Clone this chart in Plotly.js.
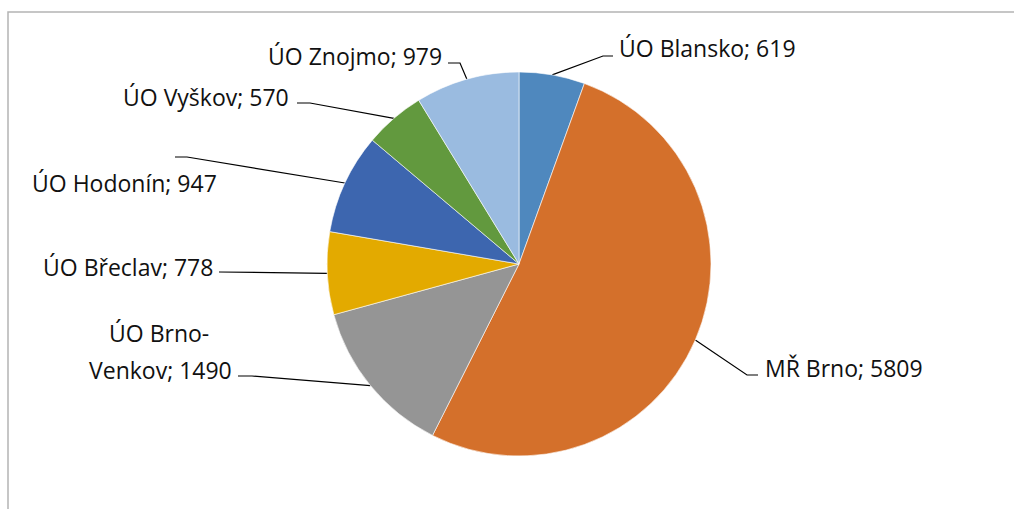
<!DOCTYPE html>
<html>
<head>
<meta charset="utf-8">
<script src="https://cdn.plot.ly/plotly-3.0.1.min.js"></script>
<style>
  html, body { margin: 0; padding: 0; background: #fff; }
  #chart { width: 1014px; height: 509px; }
</style>
</head>
<body>
<div id="chart"></div>
<script>
// data
const labels = ['ÚO Blansko', 'MŘ Brno', 'ÚO Brno-Venkov', 'ÚO Břeclav', 'ÚO Hodonín', 'ÚO Vyškov', 'ÚO Znojmo'];
const shownLabels = ['ÚO Blansko', 'MŘ Brno', 'ÚO Brno-|Venkov', 'ÚO Břeclav', 'ÚO Hodonín', 'ÚO Vyškov', 'ÚO Znojmo'];
const values = [619, 5809, 1490, 778, 947, 570, 979];
const colors = ['#4F88BE', '#D4702B', '#959595', '#E3AA00', '#3D66AF', '#62993E', '#9ABBE0'];

// layout of the pie (pixels)
const W = 1014, H = 509;
const cx = 519, cy = 264, R = 192;

// leader line elbows / ends and label positions (pixels)
const elbows = [[603, 56], [747, 375], [252, 376], [224, 272], [187, 157], [310, 103], [460, 63]];
const ends = [[613, 56], [758, 375], [238, 376], [219, 272], [175, 157], [297, 103], [448, 63]];
const labelPos = [[617, 48, 'left'], [763, 368, 'left'], [234, 351, 'right'], [215, 267, 'right'],
                  [219, 183, 'right'], [291, 97, 'right'], [444, 56, 'right']];

const total = values.reduce((a, b) => a + b, 0);
const font = { family: 'Open Sans', size: 23, color: '#111' };

const pie = {
    type: 'pie',
    labels: labels,
    values: values,
    sort: false,
    direction: 'clockwise',
    rotation: 0,
    textinfo: 'none',
    hoverinfo: 'label+value',
    marker: { colors: colors, line: { color: '#ffffff', width: 0.6 } },
    domain: { x: [(cx - R) / W, (cx + R) / W], y: [1 - (cy + R) / H, 1 - (cy - R) / H] },
    showlegend: false
};

// leader lines from the slice mid-angle on the rim
const lx = [], ly = [];
let cum = 0;
for (let i = 0; i < values.length; i++) {
    const a = 2 * Math.PI * (cum + values[i] / 2) / total;
    cum += values[i];
    lx.push(cx + R * Math.sin(a), elbows[i][0], ends[i][0], null);
    ly.push(cy - R * Math.cos(a), elbows[i][1], ends[i][1], null);
}
const leaders = {
    type: 'scatter', mode: 'lines', x: lx, y: ly,
    line: { color: '#000', width: 1.2 }, hoverinfo: 'skip', showlegend: false
};

const annotations = [];
for (let i = 0; i < values.length; i++) {
    const parts = (shownLabels[i] + '; ' + values[i]).split('|');
    const p = labelPos[i];
    parts.forEach((t, k) => {
        const dy = (k - (parts.length - 1) / 2) * 37;
        annotations.push({
            x: p[0], y: p[1] + dy, xref: 'x', yref: 'y',
            text: t, showarrow: false, xanchor: p[2], yanchor: 'middle',
            font: font, align: 'center'
        });
    });
}
// first line of Brno-Venkov is centred over the second one
annotations.forEach(a => {
    if (a.text === 'ÚO Brno-') { a.xanchor = 'center'; a.x = 159; }
});

const layout = {
    width: W, height: H,
    margin: { l: 0, r: 0, t: 0, b: 0 },
    paper_bgcolor: '#fff', plot_bgcolor: 'rgba(0,0,0,0)',
    xaxis: { range: [0, W], visible: false, fixedrange: true },
    yaxis: { range: [H, 0], visible: false, fixedrange: true },
    annotations: annotations,
    shapes: [{
        type: 'rect', xref: 'x', yref: 'y', x0: 8, y0: 12, x1: W + 10, y1: H + 10,
        line: { color: '#B4B4B4', width: 1.5 }
    }]
};

Plotly.newPlot('chart', [pie, leaders], layout, { displayModeBar: false, staticPlot: true });
</script>
</body>
</html>
